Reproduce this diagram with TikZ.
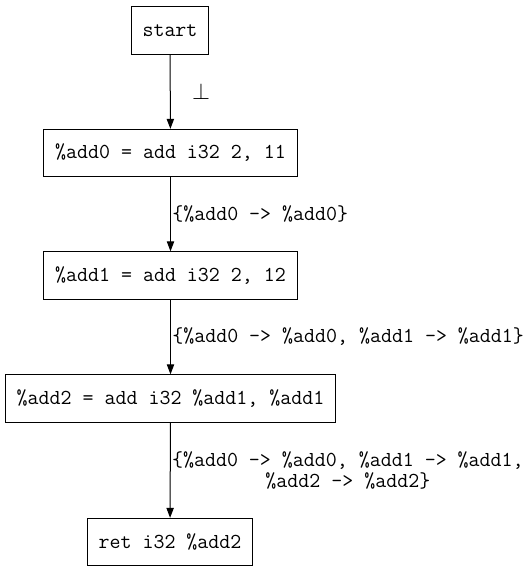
\documentclass[tikz,border=0pt]{standalone}
\usetikzlibrary{positioning, arrows.meta}

\begin{document}
\begin{tikzpicture}[
  x=0.75pt, y=-0.75pt,
  instr/.style={draw, line width=0.75pt, minimum height=35.5pt, inner xsep=8.5pt, font=\fontsize{16}{19}\ttfamily},
  lbl/.style={font=\fontsize{16}{16}\ttfamily, align=center, inner sep=1pt},
  arrow/.style={-{Triangle[length=7.5pt, width=5.5pt]}, line width=0.75pt}
]
  \useasboundingbox (0,0) rectangle (529,573);

  \node[instr] (start) at (170,30.5) {start};
  \node[instr] (add0) at (170.5,153) {\%add0 = add i32 2, 11};
  \node[instr] (add1) at (170.5,275.5) {\%add1 = add i32 2, 12};
  \node[instr] (add2) at (170.5,398.5) {\%add2 = add i32 \%add1, \%add1};
  \node[instr] (ret) at (170,542) {ret i32 \%add2};

  \draw[arrow] (start) -- node[lbl, right, xshift=15pt] {$\perp$} (add0);
  \draw[arrow] (add0) -- node[lbl, right] {\{\%add0 -> \%add0\}} (add1);
  \draw[arrow] (add1) -- node[lbl, right] {\{\%add0 -> \%add0, \%add1 -> \%add1\}} (add2);
  \draw[arrow] (add2) -- node[lbl, right] {\{\%add0 -> \%add0, \%add1 -> \%add1,\\\%add2 -> \%add2\}} (ret);
\end{tikzpicture}
\end{document}
